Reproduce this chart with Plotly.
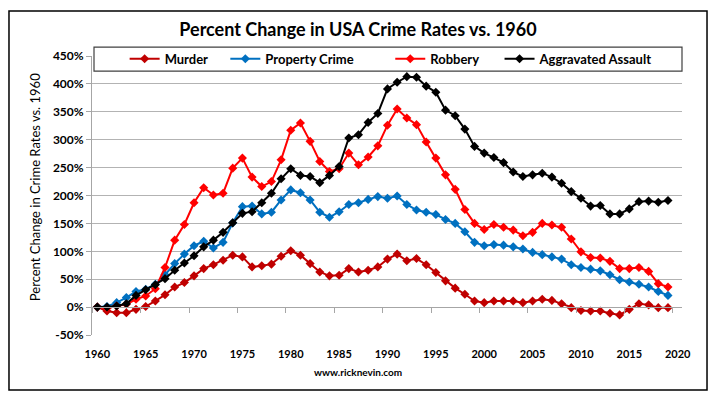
import plotly.graph_objects as go

years = list(range(1960, 2020))

murder = [0, -7, -10, -10, -4, 1, 11, 22, 36, 44, 56, 69, 76, 84, 93, 90, 72, 74, 77, 91,
          101, 93, 78, 63, 56, 57, 69, 63, 66, 72, 86, 95, 83, 87, 76, 62, 47, 34, 23, 11,
          8, 11, 11, 11, 8, 11, 14, 12, 6, -1, -6, -7, -7, -11, -14, -4, 6, 4, -1, -1]

property_crime = [0, 1, 8, 17, 28, 32, 41, 58, 78, 95, 110, 118, 106, 116, 151, 180, 181, 167, 170, 192,
                  210, 205, 192, 170, 161, 171, 184, 187, 193, 198, 195, 199, 184, 174, 170, 166, 157, 150, 135, 116,
                  110, 112, 111, 108, 104, 98, 94, 90, 86, 76, 71, 68, 65, 58, 49, 45, 41, 36, 28, 21]

robbery = [0, -2, 2, 5, 14, 20, 33, 71, 120, 148, 187, 214, 201, 204, 249, 267, 233, 216, 225, 264,
           317, 330, 297, 261, 243, 248, 276, 255, 269, 289, 326, 355, 339, 327, 296, 267, 237, 211, 175, 150,
           139, 148, 143, 138, 128, 134, 150, 147, 143, 122, 99, 89, 88, 82, 69, 69, 71, 64, 42, 36]

assault = [0, 0, 2, 6, 21, 31, 40, 51, 66, 79, 92, 108, 120, 134, 151, 168, 171, 187, 204, 230,
           248, 236, 234, 223, 236, 252, 303, 309, 331, 347, 391, 403, 413, 412, 396, 385, 353, 343, 319, 288,
           276, 268, 259, 242, 234, 237, 240, 233, 222, 207, 195, 181, 182, 167, 167, 176, 189, 190, 188, 191]

series_names = ["Murder", "Property Crime", "Robbery", "Aggravated Assault"]
series_values = [murder, property_crime, robbery, assault]
series_colors = ["#C00000", "#0070C0", "#FF0000", "#000000"]

x_tick_vals = list(range(1960, 2021, 5))
y_tick_vals = list(range(-50, 451, 50))
y_tick_text = [f"{v}%" for v in y_tick_vals]

FONT = "Lato"
NB = "\u00a0"
legend_pad = [4, 10, 5, 0]  # trailing non-breaking spaces to spread legend entries

fig = go.Figure()
for name, vals, col, pad in zip(series_names, series_values, series_colors, legend_pad):
    fig.add_trace(go.Scatter(
        x=years, y=vals, name=name + NB * pad, mode="lines+markers",
        line=dict(color=col, width=2),
        marker=dict(symbol="diamond", size=7, color=col),
    ))

# invisible trace to anchor the secondary x axis (axis line at 0% with tick marks)
fig.add_trace(go.Scatter(x=[years[0]], y=[0], xaxis="x2", mode="markers",
                         marker=dict(opacity=0), showlegend=False, hoverinfo="skip"))

fig.update_layout(
    width=716, height=402,
    margin=dict(l=92, r=34, t=56, b=67),
    paper_bgcolor="white", plot_bgcolor="white",
    font=dict(family=FONT, color="#000000"),
    title=dict(text="<b>Percent Change in USA Crime Rates vs. 1960</b>",
               x=0.5, xref="container", xanchor="center",
               y=1 - 30 / 402, yref="container", yanchor="middle",
               font=dict(size=18, family=FONT, color="#000000")),
    showlegend=True,
    legend=dict(orientation="h", x=0.507, xanchor="center", y=0.99, yanchor="middle",
                bgcolor="rgba(0,0,0,0)", borderwidth=0,
                font=dict(size=13, family=FONT, color="#000000", weight="bold"),
                itemwidth=30, tracegroupgap=0),
    xaxis=dict(range=[1959.45, 2020.45], tickvals=x_tick_vals,
               showgrid=False, zeroline=False, showline=False,
               ticks="outside", ticklen=9, tickcolor="rgba(0,0,0,0)",
               tickfont=dict(size=11, family=FONT, color="#000000", weight="bold")),
    xaxis2=dict(overlaying="x", matches="x", anchor="free", position=0.1,
                showgrid=False, zeroline=False, showline=True, linecolor="#A6A6A6", linewidth=1,
                showticklabels=False,
                ticks="outside", ticklen=5, tickcolor="#A6A6A6",
                tickvals=[v - 0.5 for v in range(1960, 2021, 5)]),
    yaxis=dict(range=[-50, 450], tickvals=y_tick_vals, ticktext=y_tick_text,
               showgrid=True, gridcolor="#B3B3B3", gridwidth=1, zeroline=False,
               showline=True, linecolor="#A6A6A6", linewidth=1,
               ticks="outside", ticklen=5, tickcolor="#A6A6A6",
               tickfont=dict(size=12, family=FONT, color="#000000", weight="bold")),
)

# legend box
fig.add_shape(type="rect", xref="paper", yref="paper",
              x0=0.0034, x1=1.0, y0=0.946, y1=1.032,
              line=dict(color="#404040", width=1.2), fillcolor="white", layer="above")

# outer chart border
fig.add_shape(type="rect", xref="paper", yref="paper",
              x0=-0.1407, x1=1.0424, y0=-0.197, y1=1.161,
              line=dict(color="#000000", width=1.5), fillcolor="rgba(0,0,0,0)", layer="above")

# y axis title
fig.add_annotation(text="Percent Change in Crime Rates vs. 1960", textangle=-90,
                   xref="paper", yref="paper", x=-0.0966, y=0.53,
                   xanchor="center", yanchor="middle", showarrow=False,
                   font=dict(size=13, family=FONT, color="#000000"))

# footer
fig.add_annotation(text="<b>www.ricknevin.com</b>", xref="paper", yref="paper",
                   x=0.451, y=-0.1325, xanchor="center", yanchor="middle", showarrow=False,
                   font=dict(size=10, family=FONT, color="#000000"))

fig.write_html("out.html", config={"displayModeBar": False},
               post_script="document.body.style.margin='0px';")
